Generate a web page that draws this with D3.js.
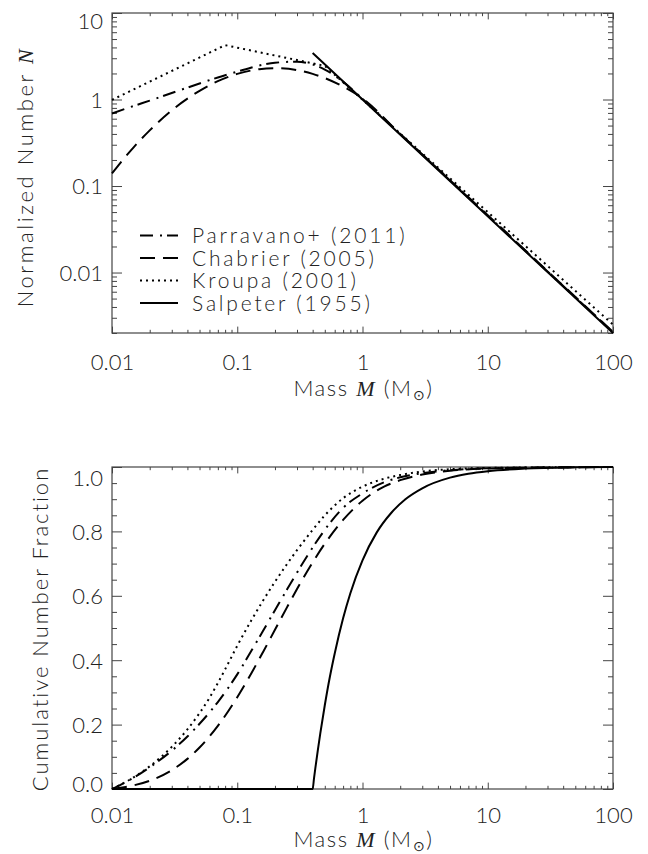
<!DOCTYPE html>
<html>
<head>
<meta charset="utf-8">
<script src="https://cdn.jsdelivr.net/npm/d3@7/dist/d3.min.js"></script>
<style>
body { margin: 0; background: #fff; }
text { font-family: Lato, "DejaVu Sans", sans-serif; font-weight: 300; fill: #222; }
.tick text { font-family: Lato, "DejaVu Sans", sans-serif; font-size: 22px; font-weight: 300; fill: #222; }
.tick line { stroke: #444; stroke-width: 1; }
</style>
</head>
<body>
<div id="chart"></div>
<script>
// tick values and labels
var massTicks = [0.01, 0.1, 1, 10, 100];
var massTickLabels = ["0.01", "0.1", "1", "10", "100"];
var numberTicks = [0.01, 0.1, 1, 10];
var numberTickLabels = ["0.01", "0.1", "1", "10"];
var fracTicks = [0, 0.2, 0.4, 0.6, 0.8, 1.0];
var fracTickLabels = ["0.0", "0.2", "0.4", "0.6", "0.8", "1.0"];

var seriesNames = ["Parravano+ (2011)", "Chabrier (2005)", "Kroupa (2001)", "Salpeter (1955)"];

// top panel: [mass, normalized number]
var parravanoIMF = [[0.01,0.69],[0.015,0.845],[0.02,0.97],[0.03,1.19],[0.05,1.53],[0.07,1.8],[0.1,2.1],[0.15,2.47],[0.2,2.66],[0.3,2.74],[0.4,2.54],[0.5,2.22],[0.7,1.6],[1,1.02],[2,0.4],[5,0.116],[10,0.0455],[30,0.0103],[100,0.00204]];
var chabrierIMF = [[0.01,0.14],[0.015,0.284],[0.02,0.44],[0.03,0.75],[0.05,1.26],[0.07,1.63],[0.1,1.98],[0.15,2.24],[0.2,2.3],[0.3,2.19],[0.4,1.98],[0.5,1.77],[0.7,1.41],[1,1.03],[2,0.40],[5,0.117],[10,0.046],[30,0.0104],[100,0.00206]];
var kroupaIMF = [[0.01,0.99],[0.08,4.25],[0.5,2.45],[1,0.995],[10,0.0499],[100,0.0025]];
var salpeterIMF = [[0.4,3.45],[1,1.0],[10,0.0447],[100,0.002]];

// bottom panel: [mass, cumulative number fraction]
var parravanoCum = [[0.01,0],[0.012,0.0153],[0.015,0.036],[0.02,0.0675],[0.03,0.119],[0.04,0.163],[0.05,0.2025],[0.07,0.27],[0.1,0.356],[0.13,0.43],[0.16,0.49],[0.2,0.555],[0.25,0.62],[0.3,0.672],[0.4,0.75],[0.5,0.805],[0.7,0.873],[1,0.918],[1.5,0.953],[2,0.968],[3,0.981],[5,0.99],[10,0.996],[100,1]];
var chabrierCum = [[0.01,0],[0.015,0.0115],[0.02,0.0257],[0.03,0.0585],[0.04,0.0936],[0.05,0.1288],[0.07,0.196],[0.1,0.2851],[0.13,0.3604],[0.16,0.4241],[0.2,0.4945],[0.25,0.5649],[0.3,0.621],[0.4,0.7038],[0.5,0.7617],[0.7,0.8356],[1,0.8954],[1.5,0.9396],[2,0.9591],[3,0.9764],[5,0.9883],[10,0.9955],[100,1]];
var kroupaCum = [[0.01,0],[0.012,0.0154],[0.015,0.037],[0.02,0.0706],[0.03,0.1308],[0.04,0.1853],[0.05,0.2357],[0.06,0.2831],[0.08,0.3716],[0.1,0.4448],[0.13,0.5249],[0.16,0.5838],[0.2,0.6434],[0.25,0.6989],[0.3,0.7417],[0.4,0.8046],[0.5,0.8496],[0.7,0.903],[1,0.939],[1.5,0.964],[2,0.975],[3,0.986],[5,0.993],[10,0.997],[100,1]];
var salpeterCum = [[0.01,0],[0.4,0],[0.41,0.033],[0.42,0.064],[0.44,0.121],[0.46,0.172],[0.5,0.26],[0.55,0.35],[0.6,0.421],[0.7,0.53],[0.8,0.608],[1,0.71],[1.3,0.797],[1.7,0.858],[2.2,0.9],[3,0.934],[5,0.967],[7,0.979],[10,0.987],[20,0.995],[50,0.999],[100,1]];

var dashes = ["13,7,2,5", "15,8", "2,4", null];

var width = 648, height = 854;
var left = 112, right = 613;

var svg = d3.select("#chart").append("svg")
  .attr("width", width)
  .attr("height", height);

var x = d3.scaleLog()
  .domain([0.01, 100])
  .range([left, right]);

var minorMass = [];
[0.01, 0.1, 1, 10].forEach(function(dec) {
  for (var k = 2; k <= 9; k++) minorMass.push(dec * k);
});

function drawPanel(p) {
  var g = svg.append("g");
  var y = p.y;

  // clip
  g.append("clipPath").attr("id", p.id)
    .append("rect")
    .attr("x", left - 1).attr("y", p.top - 1.5)
    .attr("width", right - left + 2).attr("height", p.bottom - p.top + 3);

  // x axes
  var xb = g.append("g")
    .attr("transform", "translate(0," + p.bottom + ")")
    .call(d3.axisBottom(x).tickValues(massTicks).tickSize(-6.4)
      .tickFormat(function(d, i) { return massTickLabels[i]; }));
  xb.selectAll("text").attr("y", p.xLabelOffset).attr("dy", "0.36em");
  g.append("g")
    .attr("transform", "translate(0," + p.bottom + ")")
    .call(d3.axisBottom(x).tickValues(minorMass).tickSize(-3.2).tickFormat(""));
  g.append("g")
    .attr("transform", "translate(0," + p.top + ")")
    .call(d3.axisTop(x).tickValues(massTicks).tickSize(-6.4).tickFormat(""));
  g.append("g")
    .attr("transform", "translate(0," + p.top + ")")
    .call(d3.axisTop(x).tickValues(minorMass).tickSize(-3.2).tickFormat(""));

  // y axes
  var yl = g.append("g")
    .attr("transform", "translate(" + left + ",0)")
    .call(d3.axisLeft(y).tickValues(p.yTicks).tickSize(-10).tickPadding(9)
      .tickFormat(function(d, i) { return p.yTickLabels[i]; }));
  yl.selectAll("text").attr("dy", function(d) {
    if (Math.abs(y(d) - p.top) < 1) return p.topShift;
    if (Math.abs(y(d) - p.bottom) < 1) return p.bottomShift;
    return "0.36em";
  });
  g.append("g")
    .attr("transform", "translate(" + left + ",0)")
    .call(d3.axisLeft(y).tickValues(p.yMinor).tickSize(-5).tickFormat(""));
  g.append("g")
    .attr("transform", "translate(" + right + ",0)")
    .call(d3.axisRight(y).tickValues(p.yTicks).tickSize(-10).tickFormat(""));
  g.append("g")
    .attr("transform", "translate(" + right + ",0)")
    .call(d3.axisRight(y).tickValues(p.yMinor).tickSize(-5).tickFormat(""));

  g.selectAll(".domain").remove();

  g.append("rect")
    .attr("x", left).attr("y", p.top)
    .attr("width", right - left).attr("height", p.bottom - p.top)
    .attr("fill", "none").attr("stroke", "#444").attr("stroke-width", 1.2);

  // curves
  var line = d3.line()
    .x(function(d) { return x(d[0]); })
    .y(function(d) { return y(d[1]); });

  p.series.forEach(function(s, i) {
    g.append("path")
      .datum(s)
      .attr("clip-path", "url(#" + p.id + ")")
      .attr("fill", "none")
      .attr("stroke", "#000")
      .attr("stroke-width", 2)
      .attr("stroke-dasharray", dashes[i])
      .attr("d", line.curve(p.curves[i])(s));
  });

  // x title
  var xt = g.append("text")
    .attr("x", (left + right) / 2 + 1)
    .attr("y", p.bottom + p.xTitleOffset)
    .attr("text-anchor", "middle")
    .attr("font-size", 22)
    .attr("letter-spacing", 1.6);
  xt.append("tspan").text("Mass ");
  xt.append("tspan").attr("font-family", "Liberation Serif").attr("font-style", "italic").attr("font-weight", 400).text("M");
  xt.append("tspan").text(" (M");
  xt.append("tspan").attr("font-family", "DejaVu Sans").attr("font-weight", 200).attr("font-size", 14).attr("dy", 4).text("\u2299");
  xt.append("tspan").attr("dy", -4).text(")");

  // y title
  var yt = g.append("text")
    .attr("transform", "translate(" + p.yTitleX + "," + ((p.top + p.bottom) / 2 + p.yTitleShift) + ") rotate(-90)")
    .attr("text-anchor", "middle")
    .attr("font-size", 22)
    .attr("letter-spacing", p.yTitleSpacing);
  p.yTitle(yt);
  return g;
}

var yTop = d3.scaleLog().domain([0.002, 10]).range([333, 13]);
var numberMinor = [];
[0.001, 0.01, 0.1, 1].forEach(function(dec) {
  for (var k = 2; k <= 9; k++) if (dec * k >= 0.002) numberMinor.push(dec * k);
});

var topPanel = drawPanel({
  id: "clipTop", top: 13, bottom: 333, y: yTop,
  yTicks: numberTicks, yTickLabels: numberTickLabels, yMinor: numberMinor,
  topShift: "0.7em", bottomShift: "0em",
  xLabelOffset: 29, xTitleOffset: 63,
  yTitleX: 33, yTitleShift: 4, yTitleSpacing: 2.6,
  series: [parravanoIMF, chabrierIMF, kroupaIMF, salpeterIMF],
  curves: [d3.curveMonotoneX, d3.curveMonotoneX, d3.curveLinear, d3.curveLinear],
  yTitle: function(t) {
    t.append("tspan").text("Normalized Number ");
    t.append("tspan").attr("font-family", "Liberation Serif").attr("font-style", "italic").attr("font-weight", 400).text("N");
  }
});

var yBot = d3.scaleLinear().domain([0, 1]).range([789, 467]);
var fracMinor = d3.range(1, 20).map(function(i) { return i * 0.05; }).filter(function(v) { return Math.round(v * 100) % 20 !== 0; });

drawPanel({
  id: "clipBot", top: 467, bottom: 789, y: yBot,
  yTicks: fracTicks, yTickLabels: fracTickLabels, yMinor: fracMinor,
  topShift: "0.85em", bottomShift: "0.1em",
  xLabelOffset: 26, xTitleOffset: 58,
  yTitleX: 48, yTitleShift: 1, yTitleSpacing: 2.0,
  series: [parravanoCum, chabrierCum, kroupaCum, salpeterCum],
  curves: [d3.curveMonotoneX, d3.curveMonotoneX, d3.curveMonotoneX, d3.curveMonotoneX],
  yTitle: function(t) {
    t.append("tspan").text("Cumulative Number Fraction");
  }
});

// legend
var legendY = [235.5, 258, 280.5, 303];
var legend = topPanel.append("g");
seriesNames.forEach(function(name, i) {
  legend.append("line")
    .attr("x1", 140).attr("x2", 178)
    .attr("y1", legendY[i]).attr("y2", legendY[i])
    .attr("stroke", "#000").attr("stroke-width", 2)
    .attr("stroke-dasharray", dashes[i]);
  legend.append("text")
    .attr("x", 192).attr("y", legendY[i])
    .attr("dy", "0.36em")
    .attr("font-size", 21)
    .attr("letter-spacing", 2.8)
    .text(name);
});
</script>
</body>
</html>
